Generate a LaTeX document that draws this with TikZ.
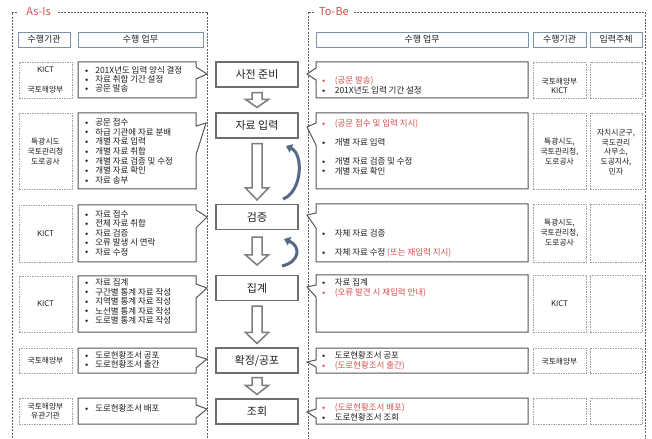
\documentclass[tikz,border=0pt]{standalone}
\usepackage{fontspec}
\setmainfont{Noto Sans CJK KR}
\usetikzlibrary{calc,arrows.meta}
\definecolor{redt}{RGB}{210,80,77}
\definecolor{txt}{RGB}{30,30,30}
\definecolor{regc}{RGB}{95,95,95}
\definecolor{hdrc}{RGB}{125,145,175}
\definecolor{orgc}{RGB}{160,160,160}
\definecolor{taskc}{RGB}{85,85,85}
\definecolor{midc}{RGB}{110,110,110}
\definecolor{arrc}{RGB}{125,125,125}
\definecolor{curc}{RGB}{85,105,135}
\newcommand{\bl}{\makebox[10.5bp][l]{\raisebox{1.4bp}{$\scriptscriptstyle\bullet$}}}
\newcommand{\br}{\makebox[13bp][l]{\raisebox{1.4bp}{$\scriptscriptstyle\bullet$}}}
\newcommand{\rd}[1]{{\color{redt}#1}}
\newcommand{\callR}[8]{\draw[taskbox] (#1,#3) -- (#2,#3) -- (#2,#5) -- (#6,#7) -- (#2,#8) -- (#2,#4) -- (#1,#4) -- cycle;}
\newcommand{\callL}[8]{\draw[taskbox] (#2,#3) -- (#1,#3) -- (#1,#5) -- (#6,#7) -- (#1,#8) -- (#1,#4) -- (#2,#4) -- cycle;}
\newcommand{\harr}[5]{\draw[holl] let \p1=($(#1.south)+(0,-#3bp)$), \p2=($(#2.north)+(0,#4bp)$) in
 (\x1-5bp,\y1) -- (\x1+5bp,\y1) -- (\x1+5bp,\y2+#5bp) -- (\x1+11.5bp,\y2+#5bp) -- (\x1,\y2) -- (\x1-11.5bp,\y2+#5bp) -- (\x1-5bp,\y2+#5bp) -- cycle;}
\tikzset{
  region/.style={draw=regc, line width=0.6bp, dash pattern=on 2bp off 1.2bp},
  ttl/.style={text=redt, inner sep=0pt, font=\fontsize{11}{13}\selectfont},
  hdr/.style={draw=hdrc, line width=0.8bp, fill=white, inner sep=0pt, minimum height=15bp, font=\fontsize{9}{10}\selectfont, text=txt},
  mid/.style={draw=midc, line width=1.1bp, fill=white, minimum width=82bp, minimum height=25bp, inner sep=0pt, font=\fontsize{11}{13}\selectfont, text=txt},
  orgbox/.style={draw=orgc, dash pattern=on 1.5bp off 1bp, line width=0.6bp, inner sep=0pt, fill=white},
  orgtext/.style={align=center, inner sep=0pt, text=txt},
  taskbox/.style={draw=taskc, line width=1bp, fill=white, line join=miter},
  tt/.style={anchor=north west, inner sep=0pt, align=left, text=txt},
  holl/.style={draw=arrc, line width=1.5bp, fill=white, line join=miter},
  curv/.style={draw=curc, line width=3bp, -{Triangle[length=6bp,width=9bp]}}
}
\begin{document}
\begin{tikzpicture}[x=1bp,y=-1bp]
\useasboundingbox (0,0) rectangle (652,439);
\fill[white] (0,0) rectangle (652,439);

% regions
\draw[region] (17,12) -- (12,12) -- (12,445);
\draw[region] (58,12) -- (207,12) -- (207,445);
\node[ttl] (asis) at (38.5,12) {As-Is};
\draw[region] (314,12) -- (308,12) -- (308,445);
\draw[region] (354,12) -- (645,12) -- (645,445);
\node[ttl] (tobe) at (334,12) {To-Be};

% headers
\node[hdr, minimum width=52bp] (h1) at (44,39.5) {수행기관};
\node[hdr, minimum width=125bp] (h2) at (140.5,39.5) {수행 업무};
\node[hdr, minimum width=212bp] (h3) at (422,39.5) {수행 업무};
\node[hdr, minimum width=53bp] (h4) at (559.5,39.5) {수행기관};
\node[hdr, minimum width=52bp] (h5) at (616,39.5) {입력주체};

% left org boxes
\node[orgbox, minimum width=53bp, minimum height=36bp] (lo1) at (45.5,80) {};
\node[orgbox, minimum width=53bp, minimum height=76bp] (lo2) at (45.5,151) {};
\node[orgbox, minimum width=53bp, minimum height=57bp] (lo3) at (45.5,233.5) {};
\node[orgbox, minimum width=53bp, minimum height=56bp] (lo4) at (45.5,304) {};
\node[orgbox, minimum width=53bp, minimum height=25bp] (lo5) at (45.5,360.5) {};
\node[orgbox, minimum width=53bp, minimum height=26bp] (lo6) at (45.5,411) {};
\node[orgtext, font=\fontsize{7.8}{10}\selectfont] (lo1t) at (45.5,80) {KICT\\[10bp]국토해양부};
\node[orgtext, font=\fontsize{7.8}{10}\selectfont] (lo2t) at (45.5,152) {특광시도\\국토관리청\\도로공사};
\node[orgtext, font=\fontsize{7.8}{10}\selectfont] (lo3t) at (45.5,233.5) {KICT};
\node[orgtext, font=\fontsize{7.8}{10}\selectfont] (lo4t) at (45.5,304) {KICT};
\node[orgtext, font=\fontsize{7.8}{10}\selectfont] (lo5t) at (45.5,361) {국토해양부};
\node[orgtext, font=\fontsize{7.8}{9}\selectfont] (lo6t) at (45.5,411.5) {국토해양부\\유관기관};

% right org / input boxes
\foreach \n/\c/\h in {1/80/36,2/151/76,3/233/58,4/303.5/57,5/360.5/25,6/411/26}{
  \node[orgbox, minimum width=53bp, minimum height=\h bp] (ro\n) at (559.5,\c) {};
  \node[orgbox, minimum width=52bp, minimum height=\h bp] (ri\n) at (616,\c) {};
}
\node[orgtext, font=\fontsize{7.8}{9}\selectfont] (ro1t) at (559.5,85.5) {국토해양부\\KICT};
\node[orgtext, font=\fontsize{7.8}{10}\selectfont] (ro2t) at (559.5,152) {특광시도,\\국토관리청,\\도로공사};
\node[orgtext, font=\fontsize{7.8}{9.8}\selectfont] (ri2t) at (616,152) {자치시군구,\\국도관리\\사무소,\\도공지사,\\민자};
\node[orgtext, font=\fontsize{7.8}{10}\selectfont] (ro3t) at (559.5,233) {특광시도,\\국토관리청,\\도로공사};
\node[orgtext, font=\fontsize{7.8}{10}\selectfont] (ro4t) at (559.5,304) {KICT};
\node[orgtext, font=\fontsize{7.8}{10}\selectfont] (ro5t) at (559.5,362) {국토해양부};

% left task callouts
\callR{78}{196}{62}{98}{67}{207}{74}{79}
\callR{78}{196}{113}{189}{126}{206}{123}{155}
\callR{78}{196}{205}{262}{210}{207}{217}{228}
\callR{78}{196}{276}{332}{284}{207}{288}{298}
\callR{78}{196}{348}{373}{356}{207}{359}{368}
\callR{78}{196}{398}{424}{405}{207}{409}{418}

% right task callouts
\callL{316}{528}{62}{98}{68}{307}{74}{80}
\callL{316}{528}{113}{189}{123}{307}{127}{145}
\callL{316}{528}{204}{262}{213}{307}{215}{228}
\callL{316}{528}{275}{332}{285}{307}{287}{297}
\callL{316}{528}{348}{373}{360}{307}{362}{367}
\callL{316}{528}{398}{424}{409}{307}{412}{418}

% left task texts
\node[tt, font=\fontsize{8.5}{9}\selectfont] (lt1) at (84.6,66.3) {\bl 201X년도 입력 양식 결정\\ \bl 자료 취합 기간 설정\\ \bl 공문 발송};
\node[tt, font=\fontsize{8.5}{9.7}\selectfont] (lt2) at (84.6,118.3) {\bl 공문 접수\\ \bl 하급 기관에 자료 분배\\ \bl 개별 자료 입력\\ \bl 개별 자료 취합\\ \bl 개별 자료 검증 및 수정\\ \bl 개별 자료 확인\\ \bl 자료 송부};
\node[tt, font=\fontsize{8.5}{9.5}\selectfont] (lt3) at (84.6,210.3) {\bl 자료 접수\\ \bl 전체 자료 취합\\ \bl 자료 검증\\ \bl 오류 발생 시 연락\\ \bl 자료 수정};
\node[tt, font=\fontsize{8.5}{9.6}\selectfont] (lt4) at (84.6,278.3) {\bl 자료 집계\\ \bl 구간별 통계 자료 작성\\ \bl 지역별 통계 자료 작성\\ \bl 노선별 통계 자료 작성\\ \bl 도로별 통계 자료 작성};
\node[tt, font=\fontsize{8.5}{9}\selectfont] (lt5) at (84.6,351.3) {\bl 도로현황조서 공포\\ \bl 도로현황조서 출간};
\node[tt, font=\fontsize{8.5}{9}\selectfont] (lt6) at (84.6,404.3) {\bl 도로현황조서 배포};

% right task texts
\node[tt, font=\fontsize{8.5}{10.5}\selectfont] (rt1) at (321.6,76.3) {\rd{\br (공문 발송)}\\ \br 201X년도 입력 기간 설정};
\node[tt, font=\fontsize{8.5}{9.6}\selectfont] (rt2) at (321.6,119.3) {\rd{\br (공문 접수 및 입력 지시)}\\[9.6bp] \br 개별 자료 입력\\[9.6bp] \br 개별 자료 검증 및 수정\\ \br 개별 자료 확인};
\node[tt, font=\fontsize{8.5}{9.5}\selectfont] (rt3) at (321.6,229.3) {\br 자체 자료 검증\\[9.5bp] \br 자체 자료 수정 \rd{(또는 재입력 지시)}};
\node[tt, font=\fontsize{8.5}{10}\selectfont] (rt4) at (321.6,278.3) {\br 자료 집계\\ \rd{\br (오류 발견 시 재입력 안내)}};
\node[tt, font=\fontsize{8.5}{10}\selectfont] (rt5) at (321.6,351.3) {\br 도로현황조서 공포\\ \rd{\br (도로현황조서 출간)}};
\node[tt, font=\fontsize{8.5}{10}\selectfont] (rt6) at (321.6,403.3) {\rd{\br (도로현황조서 배포)}\\ \br 도로현황조서 조회};

% middle process
\node[mid] (m1) at (257,74.5) {사전 준비};
\node[mid] (m2) at (257,125.5) {자료 입력};
\node[mid] (m3) at (257,217) {검증};
\node[mid] (m4) at (257,288) {집계};
\node[mid] (m5) at (257,360.5) {확정/공포};
\node[mid] (m6) at (257,411.5) {조회};

\harr{m1}{m2}{5}{5}{8}
\harr{m2}{m3}{5}{4}{12}
\harr{m3}{m4}{7}{10}{10}
\harr{m4}{m5}{5}{4}{11}
\harr{m5}{m6}{4}{4}{9}

% feedback curves
\coordinate (c1s) at (283,199);
\coordinate (c1e) at (286,146);
\draw[curv] (c1s) .. controls (302,192) and (304,154) .. (c1e);
\coordinate (c2s) at (282,266);
\coordinate (c2e) at (284,239);
\draw[curv] (c2s) .. controls (300,262) and (301,246) .. (c2e);
\end{tikzpicture}
\end{document}
